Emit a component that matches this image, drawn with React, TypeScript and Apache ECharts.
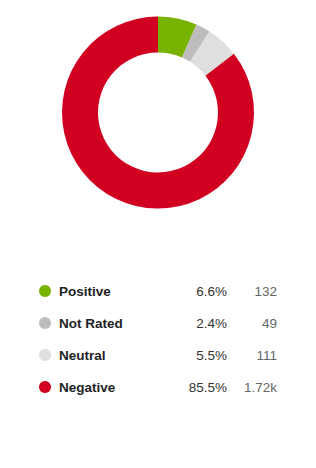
import React, { useEffect, useRef } from "react";
import * as echarts from "echarts";

const categories = ["Positive", "Not Rated", "Neutral", "Negative"];
const counts = [132, 49, 111, 1720];
const countLabels = ["132", "49", "111", "1.72k"];
const colors = ["#77b300", "#bdbdbd", "#dfdfdf", "#d10021"];

export default function App() {
  const ref = useRef<HTMLDivElement>(null);
  useEffect(() => {
    if (!ref.current) return;
    const chart = echarts.init(ref.current, null, { renderer: "svg" });
    const total = counts.reduce((a, b) => a + b, 0);
    const fontFamily = "'Liberation Sans', Arial, sans-serif";
    chart.setOption({
      animation: false,
      color: colors,
      legend: {
        orient: "vertical",
        left: 39,
        top: 284,
        padding: 0,
        icon: "circle",
        itemWidth: 12,
        itemHeight: 12,
        itemGap: 18,
        selectedMode: false,
        data: categories,
        formatter: (name: string) => {
          const i = categories.indexOf(name);
          const pct = ((counts[i] / total) * 100).toFixed(1) + "%";
          return `{name|${name}}{pct|${pct}}{val|${countLabels[i]}}`;
        },
        textStyle: {
          fontFamily,
          rich: {
            name: {
              width: 110,
              padding: [0, 0, 0, 3],
              fontSize: 13.5,
              fontWeight: "bold",
              color: "#222",
              fontFamily,
              lineHeight: 16,
            },
            pct: {
              width: 58,
              align: "right",
              fontSize: 13.5,
              color: "#333",
              fontFamily,
              lineHeight: 16,
            },
            val: {
              width: 50,
              align: "right",
              fontSize: 13.5,
              color: "#666",
              fontFamily,
              lineHeight: 16,
            },
          },
        },
      },
      series: [
        {
          type: "pie",
          center: [158, 112.5],
          radius: [60, 96],
          startAngle: 90,
          clockwise: true,
          label: { show: false },
          labelLine: { show: false },
          emphasis: { disabled: true },
          itemStyle: { borderWidth: 0 },
          data: categories.map((c, i) => ({ name: c, value: counts[i] })),
        },
      ],
    });
    return () => chart.dispose();
  }, []);
  return (
    <div
      ref={ref}
      style={{ position: "fixed", left: 0, top: 0, width: 316, height: 468, background: "#fff" }}
    />
  );
}
